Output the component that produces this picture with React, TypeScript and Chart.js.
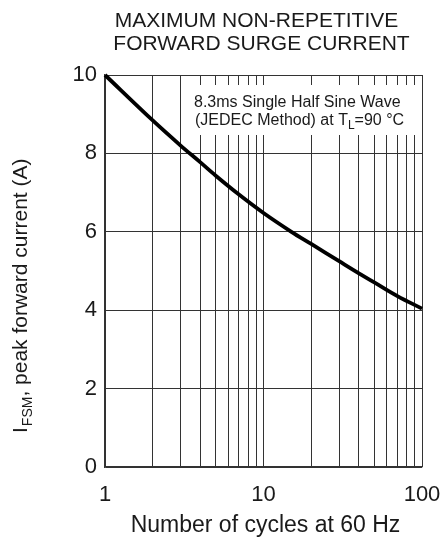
import React, { useEffect, useRef } from "react";
import { Chart, registerables } from "chart.js";

Chart.register(...registerables);

const cycles = [1, 2, 3, 4, 5, 7, 10, 15, 20, 30, 40, 50, 70, 100];
const surgeCurrent = [10, 8.84, 8.2, 7.77, 7.43, 6.95, 6.48, 6.0, 5.69, 5.25, 4.94, 4.71, 4.36, 4.04];
const xGridValues = [1, 2, 3, 4, 5, 6, 7, 8, 9, 10, 20, 30, 40, 50, 60, 70, 80, 90, 100];
const xLabelValues = [1, 10, 100];
const titleLines = ["MAXIMUM NON-REPETITIVE", "FORWARD SURGE CURRENT"];
const noteLine1 = "8.3ms Single Half Sine Wave";
const noteLine2a = "(JEDEC Method) at T";
const noteLine2sub = "L";
const noteLine2b = "=90 °C";
const xTitle = "Number of cycles at 60 Hz";
const yTitleMain = "I";
const yTitleSub = "FSM";
const yTitleRest = ", peak forward current (A)";

const FONT = "'Liberation Sans', Arial, Helvetica, sans-serif";
const INK = "#1a1a1a";
const GRID = "#333333";

const textPlugin = {
  id: "customText",
  beforeDatasetsDraw(chart: any) {
    const ctx = chart.ctx;
    const a = chart.chartArea;
    ctx.save();
    // annotation box
    const bx = a.left + 81;
    const by = a.top + 10;
    const bw = a.right - 4 - bx;
    const bh = 50;
    ctx.fillStyle = "#ffffff";
    ctx.fillRect(bx, by, bw, bh);
    ctx.fillStyle = INK;
    ctx.font = `16px ${FONT}`;
    ctx.textBaseline = "alphabetic";
    ctx.textAlign = "left";
    const tx = a.left + 89;
    ctx.fillText(noteLine1, tx, a.top + 32);
    let x2 = tx + 1;
    const y2 = a.top + 49.5;
    ctx.fillText(noteLine2a, x2, y2);
    x2 += ctx.measureText(noteLine2a).width;
    ctx.font = `12px ${FONT}`;
    ctx.fillText(noteLine2sub, x2, y2 + 4);
    x2 += ctx.measureText(noteLine2sub).width;
    ctx.font = `16px ${FONT}`;
    ctx.fillText(noteLine2b, x2, y2);
    ctx.restore();
  },
  afterDraw(chart: any) {
    const ctx = chart.ctx;
    const a = chart.chartArea;
    const cx = (a.left + a.right) / 2;
    ctx.save();
    ctx.fillStyle = INK;
    ctx.textAlign = "center";
    ctx.textBaseline = "alphabetic";
    ctx.font = `21px ${FONT}`;
    ctx.fillText(titleLines[0], cx - 7, 27);
    ctx.fillText(titleLines[1], cx - 2, 50);
    ctx.font = `23px ${FONT}`;
    ctx.fillText(xTitle, cx + 2, 532);
    // y title rotated
    ctx.translate(27, 433);
    ctx.rotate(-Math.PI / 2);
    ctx.textAlign = "left";
    let x = 0;
    ctx.font = `21px ${FONT}`;
    ctx.fillText(yTitleMain, x, 0);
    x += ctx.measureText(yTitleMain).width + 1;
    ctx.font = `14px ${FONT}`;
    ctx.fillText(yTitleSub, x, 5);
    x += ctx.measureText(yTitleSub).width;
    ctx.font = `21px ${FONT}`;
    ctx.fillText(yTitleRest, x, 0);
    ctx.restore();
  },
};

export default function App() {
  const ref = useRef<HTMLCanvasElement>(null);
  useEffect(() => {
    if (!ref.current) return;
    const chart = new Chart(ref.current, {
      type: "line",
      data: {
        datasets: [
          {
            data: cycles.map((c, i) => ({ x: c, y: surgeCurrent[i] })),
            borderColor: "#000000",
            borderWidth: 3.8,
            pointRadius: 0,
            tension: 0.35,
            fill: false,
            clip: 4,
          },
        ],
      },
      options: {
        responsive: false,
        animation: false,
        events: [],
        layout: { padding: { top: 75, right: 19, left: 0, bottom: 0 } },
        plugins: { legend: { display: false }, tooltip: { enabled: false }, title: { display: false } },
        scales: {
          x: {
            type: "logarithmic",
            min: 1,
            max: 100,
            afterBuildTicks: (scale: any) => {
              scale.ticks = xGridValues.map((v) => ({ value: v }));
            },
            afterFit: (scale: any) => {
              scale.height = 73;
              scale.paddingLeft = 0;
              scale.paddingRight = 0;
            },
            ticks: {
              autoSkip: false,
              maxRotation: 0,
              padding: 15,
              color: INK,
              font: { family: FONT, size: 22 },
              callback: (v: any) => (xLabelValues.includes(Number(v)) ? String(v) : ""),
            },
            grid: { color: GRID, lineWidth: 1, drawTicks: false },
            border: { display: true, color: GRID, width: 1.3 },
          },
          y: {
            type: "linear",
            min: 0,
            max: 10,
            afterFit: (scale: any) => {
              scale.width = 105;
              scale.paddingTop = 0;
              scale.paddingBottom = 0;
            },
            ticks: {
              stepSize: 2,
              padding: 8,
              color: INK,
              font: { family: FONT, size: 22 },
            },
            grid: { color: GRID, lineWidth: 1, drawTicks: false },
            border: { display: true, color: GRID, width: 1.3 },
          },
        },
      },
      plugins: [textPlugin],
    } as any);
    return () => chart.destroy();
  }, []);
  return (
    <div style={{ position: "absolute", left: 0, top: 0, width: 441, height: 540, background: "#fff" }}>
      <canvas ref={ref} width={441} height={540} style={{ display: "block" }} />
    </div>
  );
}
